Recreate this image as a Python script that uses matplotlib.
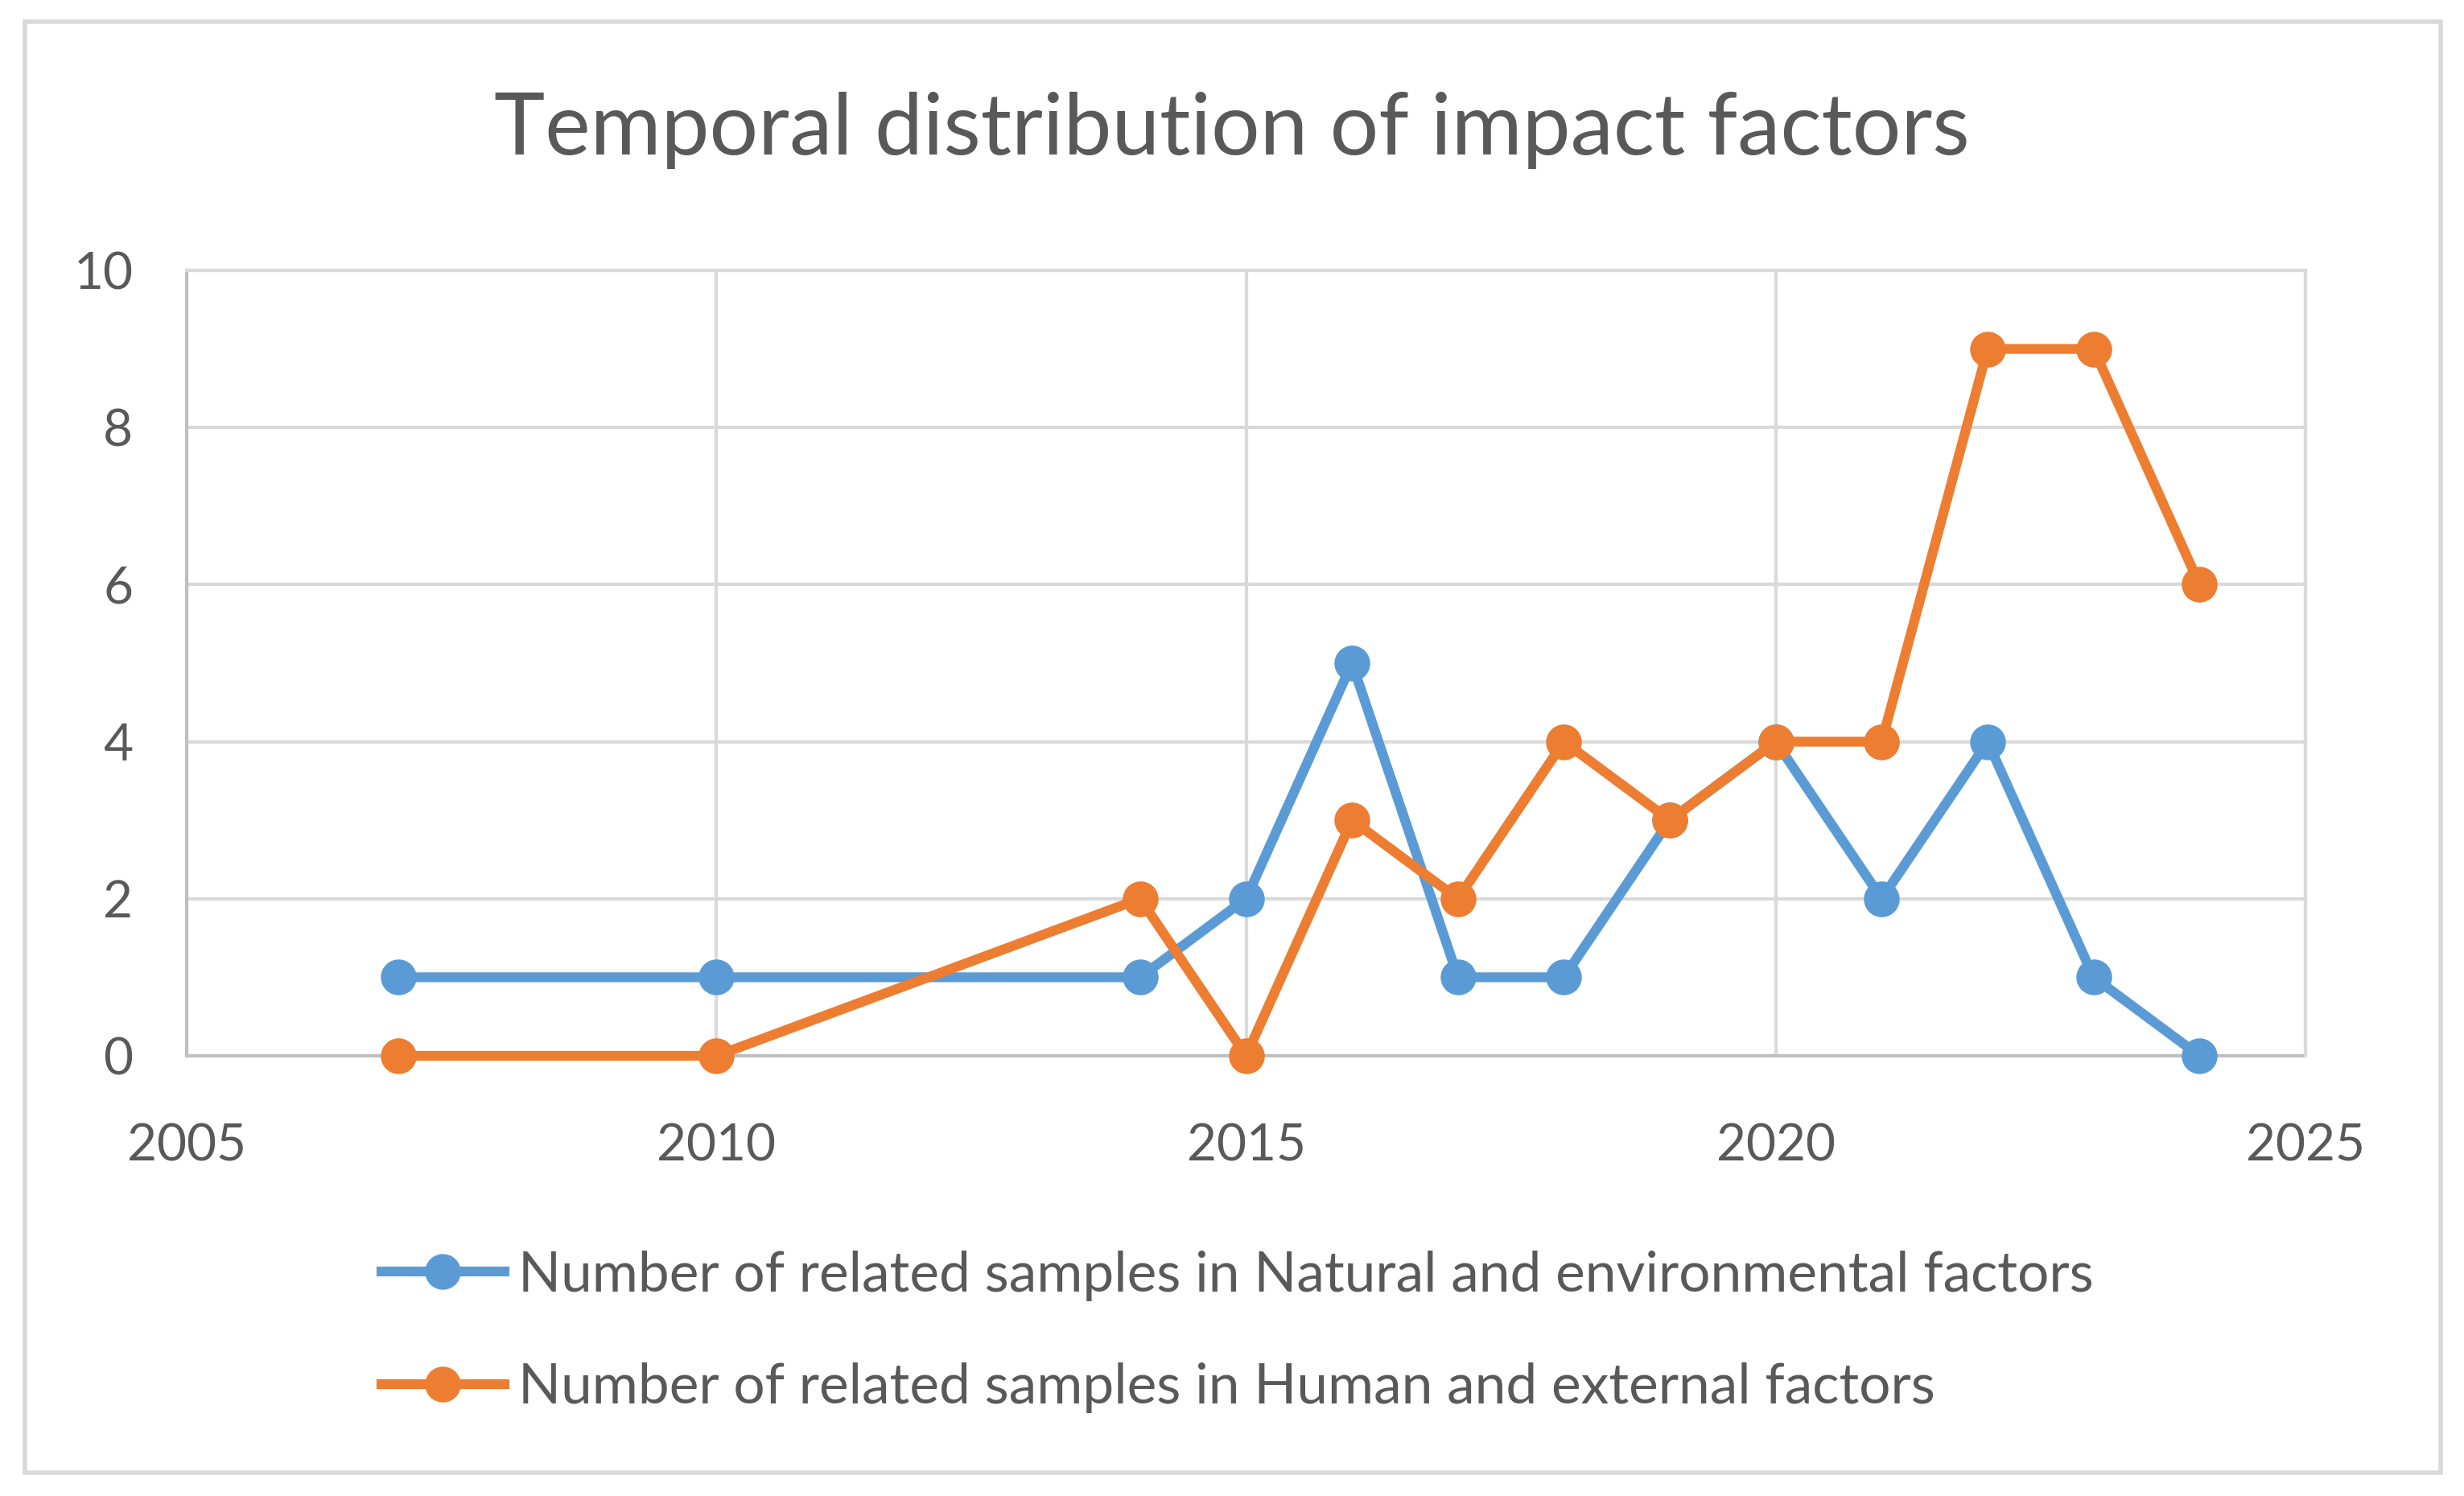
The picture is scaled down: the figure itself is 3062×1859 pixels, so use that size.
import matplotlib.pyplot as plt
from matplotlib.patches import Rectangle

# data
years = [2007, 2010, 2014, 2015, 2016, 2017, 2018, 2019, 2020, 2021, 2022, 2023, 2024]
natural = [1, 1, 1, 2, 5, 1, 1, 3, 4, 2, 4, 1, 0]
human = [0, 0, 2, 0, 3, 2, 4, 3, 4, 4, 9, 9, 6]
x_ticks = [2005, 2010, 2015, 2020, 2025]
y_ticks = [0, 2, 4, 6, 8, 10]

label_nat = 'Number of related samples in Natural and environmental factors'
label_hum = 'Number of related samples in Human and external factors'

blue = '#5B9BD5'
orange = '#ED7D31'
text_col = '#595959'

plt.rcParams['font.family'] = ['Lato', 'DejaVu Sans']

W, H, dpi = 3062, 1859, 200
fig = plt.figure(figsize=(W / dpi, H / dpi), dpi=dpi)

# outer chart frame
fig.patches.append(Rectangle((31 / W, 1 - 1830 / H), (3033 - 31) / W, (1830 - 27) / H,
                             transform=fig.transFigure, fill=False,
                             edgecolor='#D9D9D9', linewidth=2))

ax = fig.add_axes([232 / W, 1 - 1312 / H, (2865 - 232) / W, (1312 - 336) / H])

ax.plot(years, natural, color=blue, lw=4.4, marker='o', ms=15, label=label_nat,
        clip_on=False, zorder=3)
ax.plot(years, human, color=orange, lw=4.4, marker='o', ms=15, label=label_hum,
        clip_on=False, zorder=4)

ax.set_xlim(2005, 2025)
ax.set_ylim(0, 10)
ax.set_xticks(x_ticks)
ax.set_yticks(y_ticks)
ax.grid(True, color='#D9D9D9', lw=1.5)
ax.set_axisbelow(True)
for s in ax.spines.values():
    s.set_color('#D9D9D9')
    s.set_linewidth(1.5)
ax.spines['bottom'].set_color('#BFBFBF')
ax.spines['left'].set_color('#BFBFBF')
ax.spines['bottom'].set_zorder(2)
ax.tick_params(length=0, labelsize=23, labelcolor=text_col, pad=24)
ax.tick_params(axis='x', pad=30)

fig.text(0.5, 1 - 162 / H, 'Temporal distribution of impact factors',
         ha='center', va='center', fontsize=38.5, color=text_col)

leg = fig.legend(loc='upper left', bbox_to_anchor=(446 / W, 1 - 1526 / H),
                 frameon=False, fontsize=25, labelcolor=text_col,
                 handlelength=2.2, handletextpad=0.25, labelspacing=1.1,
                 borderaxespad=0)

fig.savefig('out.png', dpi=dpi, facecolor='white')
